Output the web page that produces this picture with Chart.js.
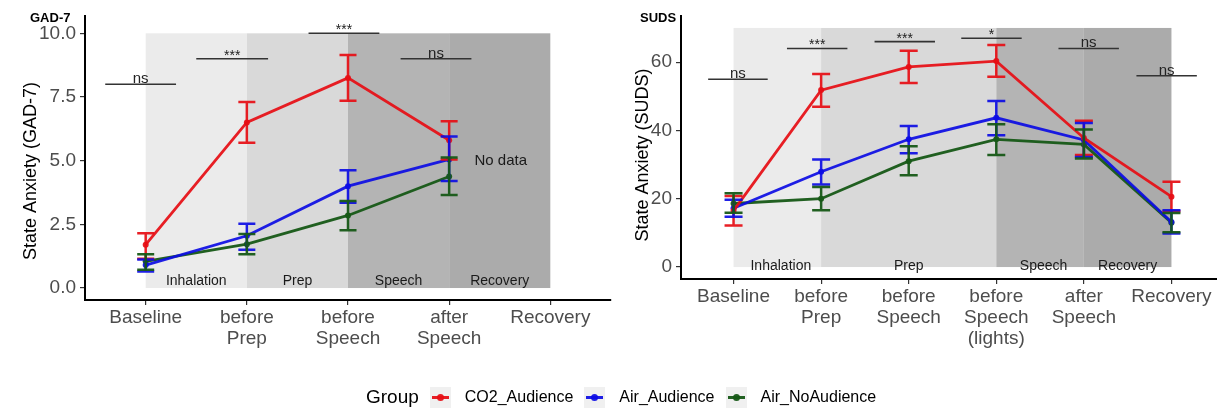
<!DOCTYPE html>
<html>
<head>
<meta charset="utf-8">
<script src="https://cdn.jsdelivr.net/npm/chart.js@4.4.0/dist/chart.umd.min.js"></script>
<style>
    html, body { margin: 0; padding: 0; background: #fff; }
    body { width: 1217px; height: 410px; overflow: hidden; position: relative; font-family: "Liberation Sans", Arial, sans-serif; }
    canvas { position: absolute; top: 0; }
    #gadChart { left: 0; }
    #sudsChart { left: 610px; }
    .legend { position: absolute; top: 386px; left: 366px; height: 22px; display: flex; align-items: center; color: #000; }
    .legend .title { font-size: 19px; margin-right: 11px; }
    .legend .key { width: 21px; height: 21px; background: #f0f0f0; position: relative; margin-right: 14px; }
    .legend .key .ln { position: absolute; left: 2px; right: 2px; top: 9px; height: 3px; }
    .legend .key .pt { position: absolute; left: 7px; top: 7px; width: 7px; height: 7px; border-radius: 50%; }
    .legend .name { font-size: 16px; margin-right: 11px; }
</style>
</head>
<body>
<canvas id="gadChart" width="615" height="410"></canvas>
<canvas id="sudsChart" width="620" height="410"></canvas>
<div class="legend" id="legend"></div>

<script>
// ---- data ----
const groupNames = ['CO2_Audience', 'Air_Audience', 'Air_NoAudience'];
const groupColors = ['rgba(230, 14, 20, 0.93)', 'rgba(12, 12, 228, 0.92)', 'rgba(22, 88, 22, 0.95)'];

// GAD-7 panel
const gadLabels = [['Baseline'], ['before', 'Prep'], ['before', 'Speech'], ['after', 'Speech'], ['Recovery']];
const gadTicks = [0, 2.5, 5, 7.5, 10];
const gadCO2 = [1.7, 6.5, 8.25, 5.8, null];
const gadCO2Lo = [1.15, 5.7, 7.35, 5.05, null];
const gadCO2Hi = [2.15, 7.3, 9.15, 6.55, null];
const gadAir = [0.9, 2.05, 4.0, 5.05, null];
const gadAirLo = [0.65, 1.5, 3.35, 4.2, null];
const gadAirHi = [1.12, 2.52, 4.62, 5.95, null];
const gadNoAud = [1.05, 1.72, 2.85, 4.38, null];
const gadNoAudLo = [0.72, 1.33, 2.27, 3.65, null];
const gadNoAudHi = [1.33, 2.12, 3.42, 5.12, null];
const gadPhaseNames = ['Inhalation', 'Prep', 'Speech', 'Recovery'];
const gadPhaseFrom = [0, 1, 2, 3];
const gadPhaseTo = [1, 2, 3, 4];
const gadPhaseTop = 10;
const gadSigText = ['ns', '***', '***', 'ns'];
const gadSigFrom = [-0.40, 0.50, 1.61, 2.52];
const gadSigTo = [0.30, 1.21, 2.31, 3.22];
const gadSigY = [8, 9, 10, 9];

// SUDS panel
const sudsLabels = [['Baseline'], ['before', 'Prep'], ['before', 'Speech'], ['before', 'Speech', '(lights)'], ['after', 'Speech'], ['Recovery']];
const sudsTicks = [0, 20, 40, 60];
const sudsCO2 = [16.5, 51.8, 58.6, 60.3, 37.8, 20.6];
const sudsCO2Lo = [12.2, 46.9, 53.9, 55.7, 32.8, 16.3];
const sudsCO2Hi = [20.8, 56.5, 63.3, 65.0, 42.8, 25.0];
const sudsAir = [17.2, 27.9, 37.4, 43.7, 37.2, 13.2];
const sudsAirLo = [14.7, 24.2, 33.3, 38.6, 32.2, 9.8];
const sudsAirHi = [19.7, 31.5, 41.3, 48.6, 42.2, 16.6];
const sudsNoAud = [18.6, 20.0, 31.0, 37.4, 35.9, 13.0];
const sudsNoAudLo = [15.9, 16.6, 26.9, 32.8, 31.8, 10.2];
const sudsNoAudHi = [21.6, 23.4, 35.4, 41.8, 40.3, 15.8];
const sudsPhaseNames = ['Inhalation', 'Prep', 'Speech', 'Recovery'];
const sudsPhaseFrom = [0, 1, 3, 4];
const sudsPhaseTo = [1, 3, 4, 5];
const sudsPhaseTop = 70;
const sudsSigText = ['ns', '***', '***', '*', 'ns', 'ns'];
const sudsSigFrom = [-0.29, 0.61, 1.61, 2.60, 3.71, 4.60];
const sudsSigTo = [0.39, 1.30, 2.30, 3.29, 4.40, 5.29];
const sudsSigY = [55, 64, 66, 67, 64, 56];

const shadeColors = ['#ebebeb', '#d9d9d9', '#b4b4b4', '#ababab'];
const fontFamily = '"Liberation Sans", Arial, sans-serif';

// shading, phase labels, error bars, significance brackets, titles
const decorPlugin = {
    id: 'decor',
    beforeDatasetsDraw(chart, args, opts) {
        const { ctx } = chart;
        const x = chart.scales.x, y = chart.scales.y;
        ctx.save();
        const yTop = y.getPixelForValue(opts.phaseTop);
        const yBot = y.getPixelForValue(0);
        opts.phaseFrom.forEach((from, i) => {
            const x0 = x.getPixelForValue(from);
            const x1 = x.getPixelForValue(opts.phaseTo[i]);
            ctx.fillStyle = shadeColors[i];
            ctx.fillRect(x0, yTop, x1 - x0, yBot - yTop);
        });
        ctx.fillStyle = '#1a1a1a';
        ctx.font = '14px ' + fontFamily;
        ctx.textAlign = 'center';
        ctx.textBaseline = 'middle';
        opts.phaseNames.forEach((name, i) => {
            const cx = opts.phaseLabelAt ? opts.phaseLabelAt[i] : (opts.phaseFrom[i] + opts.phaseTo[i]) / 2;
            ctx.fillText(name, x.getPixelForValue(cx), yBot - opts.phaseLabelLift);
        });
        ctx.restore();
    },
    afterDatasetsDraw(chart, args, opts) {
        const { ctx } = chart;
        const x = chart.scales.x, y = chart.scales.y;
        ctx.save();
        // error bars
        chart.data.datasets.forEach(ds => {
            ctx.strokeStyle = ds.borderColor;
            ctx.lineWidth = 2.5;
            ds.data.forEach((p, i) => {
                if (p.y == null) return;
                const px = x.getPixelForValue(p.x);
                const lo = y.getPixelForValue(ds.errLo[i]);
                const hi = y.getPixelForValue(ds.errHi[i]);
                ctx.beginPath();
                ctx.moveTo(px, lo); ctx.lineTo(px, hi);
                ctx.moveTo(px - opts.capHalf, lo); ctx.lineTo(px + opts.capHalf, lo);
                ctx.moveTo(px - opts.capHalf, hi); ctx.lineTo(px + opts.capHalf, hi);
                ctx.stroke();
            });
        });
        // significance brackets
        ctx.strokeStyle = '#333333';
        ctx.lineWidth = 1.6;
        ctx.fillStyle = '#222222';
        ctx.textAlign = 'center';
        ctx.textBaseline = 'alphabetic';
        opts.sigText.forEach((t, i) => {
            const x0 = x.getPixelForValue(opts.sigFrom[i]);
            const x1 = x.getPixelForValue(opts.sigTo[i]);
            const py = y.getPixelForValue(opts.sigY[i]);
            ctx.beginPath();
            ctx.moveTo(x0, py); ctx.lineTo(x1, py);
            ctx.stroke();
            const stars = t.startsWith('*');
            ctx.font = (stars ? '14px ' : '15px ') + fontFamily;
            ctx.fillText(t, (x0 + x1) / 2, stars ? py + 1 : py - 1);
        });
        if (opts.note) {
            ctx.fillStyle = '#1a1a1a';
            ctx.font = '15px ' + fontFamily;
            ctx.textAlign = 'left';
            ctx.textBaseline = 'middle';
            ctx.fillText(opts.note.text, x.getPixelForValue(opts.note.x), y.getPixelForValue(opts.note.y));
        }
        // panel tag
        ctx.fillStyle = '#000';
        ctx.font = 'bold 13px ' + fontFamily;
        ctx.textAlign = 'left';
        ctx.textBaseline = 'middle';
        ctx.fillText(opts.tag, 30, 18);
        // y axis title
        ctx.translate(opts.titleX, opts.titleY);
        ctx.rotate(-Math.PI / 2);
        ctx.font = '18px ' + fontFamily;
        ctx.textAlign = 'center';
        ctx.fillText(opts.title, 0, 0);
        ctx.restore();
    }
};

function makeSeries(values, lo, hi, idx) {
    return {
        label: groupNames[idx],
        data: values.map((v, i) => ({ x: i, y: v })),
        errLo: lo,
        errHi: hi,
        borderColor: groupColors[idx],
        backgroundColor: groupColors[idx],
        borderWidth: 2.8,
        pointRadius: 3,
        pointBorderWidth: 0,
        pointBackgroundColor: groupColors[idx],
        tension: 0,
        spanGaps: false
    };
}

function buildChart(canvasId, cfg) {
    const ctx = document.getElementById(canvasId).getContext('2d');
    return new Chart(ctx, {
        type: 'line',
        data: { datasets: cfg.datasets },
        plugins: [decorPlugin],
        options: {
            responsive: false,
            animation: false,
            layout: { padding: { top: 16, right: cfg.padRight, left: 0, bottom: 0 } },
            plugins: {
                legend: { display: false },
                tooltip: { enabled: false },
                decor: cfg.decor
            },
            scales: {
                x: {
                    type: 'linear',
                    min: -0.6,
                    max: cfg.labels.length - 0.4,
                    afterBuildTicks: s => { s.ticks = cfg.labels.map((l, i) => ({ value: i })); },
                    afterFit: s => { s.height = cfg.xHeight; },
                    ticks: {
                        callback: (v) => cfg.labels[Math.round(v)],
                        color: '#4d4d4d',
                        font: { family: fontFamily, size: 19, lineHeight: 1.12 },
                        padding: 2,
                        maxRotation: 0,
                        autoSkip: false
                    },
                    grid: { drawOnChartArea: false, drawTicks: true, tickLength: 5, color: '#333', lineWidth: 1.2 },
                    border: { display: true, color: '#000', width: 2 }
                },
                y: {
                    type: 'linear',
                    min: cfg.yMin,
                    max: cfg.yMax,
                    afterBuildTicks: s => { s.ticks = cfg.yTicks.map(v => ({ value: v })); },
                    afterFit: s => { s.width = cfg.yWidth; },
                    ticks: {
                        callback: cfg.yFormat,
                        color: '#4d4d4d',
                        font: { family: fontFamily, size: 19 },
                        padding: 4
                    },
                    grid: { drawOnChartArea: false, drawTicks: true, tickLength: 5, color: '#333', lineWidth: 1.2 },
                    border: { display: true, color: '#000', width: 2 }
                }
            }
        }
    });
}

buildChart('gadChart', {
    labels: gadLabels,
    datasets: [
        makeSeries(gadCO2, gadCO2Lo, gadCO2Hi, 0),
        makeSeries(gadAir, gadAirLo, gadAirHi, 1),
        makeSeries(gadNoAud, gadNoAudLo, gadNoAudHi, 2)
    ],
    yMin: -0.47, yMax: 10.68, yTicks: gadTicks,
    yFormat: v => v.toFixed(1),
    yWidth: 85, xHeight: 110, padRight: 3,
    decor: {
        tag: 'GAD-7',
        title: 'State Anxiety (GAD-7)', titleX: 31, titleY: 171,
        phaseNames: gadPhaseNames, phaseFrom: gadPhaseFrom, phaseTo: gadPhaseTo, phaseTop: gadPhaseTop,
        phaseLabelLift: 7,
        sigText: gadSigText, sigFrom: gadSigFrom, sigTo: gadSigTo, sigY: gadSigY,
        capHalf: 8.5,
        note: { text: 'No data', x: 3.25, y: 5.0 }
    }
});

buildChart('sudsChart', {
    labels: sudsLabels,
    datasets: [
        makeSeries(sudsCO2, sudsCO2Lo, sudsCO2Hi, 0),
        makeSeries(sudsAir, sudsAirLo, sudsAirHi, 1),
        makeSeries(sudsNoAud, sudsNoAudLo, sudsNoAudHi, 2)
    ],
    yMin: -3.5, yMax: 73.5, yTicks: sudsTicks,
    yFormat: v => String(v),
    yWidth: 71, xHeight: 131, padRight: 6,
    decor: {
        tag: 'SUDS',
        title: 'State Anxiety (SUDS)', titleX: 33, titleY: 155,
        phaseNames: sudsPhaseNames, phaseFrom: sudsPhaseFrom, phaseTo: sudsPhaseTo, phaseTop: sudsPhaseTop,
        phaseLabelAt: [0.54, 2.0, 3.54, 4.5],
        phaseLabelLift: 1,
        sigText: sudsSigText, sigFrom: sudsSigFrom, sigTo: sudsSigTo, sigY: sudsSigY,
        capHalf: 9
    }
});

// legend
const legend = document.getElementById('legend');
legend.innerHTML = '<span class="title">Group</span>' + groupNames.map((name, i) => `
    <span class="key"><span class="ln" style="background:${groupColors[i]}"></span><span class="pt" style="background:${groupColors[i]}"></span></span>
    <span class="name">${name}</span>`).join('');
</script>
</body>
</html>
